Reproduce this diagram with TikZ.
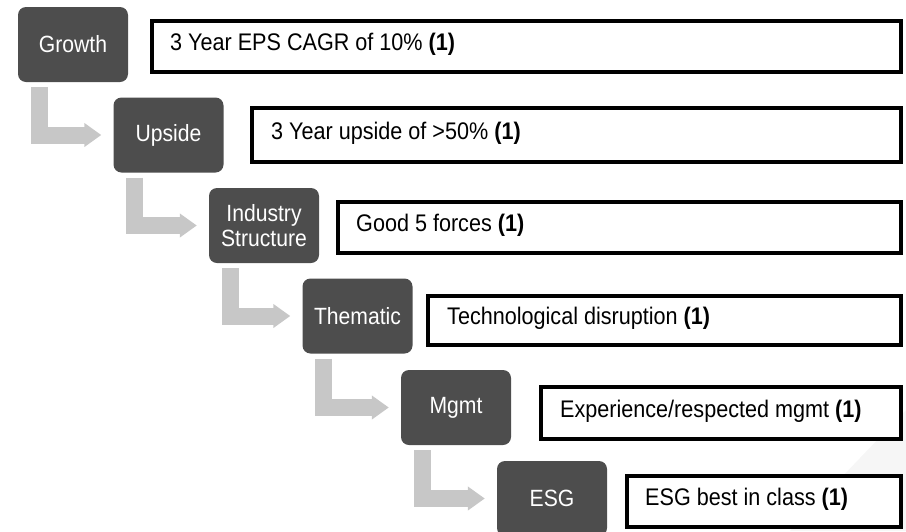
\documentclass[tikz,border=0pt]{standalone}
\usepackage{fontspec}
\setmainfont{Liberation Sans}[FakeStretch=0.9]
\usetikzlibrary{arrows.meta}
\definecolor{darkfill}{RGB}{77,77,77}
\definecolor{arrowgray}{RGB}{199,199,199}
\definecolor{wmark}{RGB}{246,246,246}
\begin{document}
\begin{tikzpicture}[x=1pt,y=-1pt,
  darkbox/.style={fill=darkfill, rounded corners=8pt, minimum width=110pt, minimum height=75pt,
    text=white, font=\fontsize{23.5}{25}\selectfont, align=center, inner sep=0pt},
  wbox/.style={draw=black, line width=4pt, fill=white, anchor=north west, inner sep=0pt},
  wtext/.style={anchor=west, font=\fontsize{24}{26}\selectfont, inner sep=0pt},
  flow/.style={draw=arrowgray, line width=17pt, -{Triangle[length=17pt,width=23pt]}}]
\useasboundingbox (0,0) rectangle (906,531);
\clip (0,0) rectangle (906,531);
\fill[wmark] (790,531) -- (906,410) -- (906,531) -- cycle;

% dark step boxes
\node[darkbox] (g) at (73,44.5) {Growth};
\node[darkbox] (u) at (168.5,135) {Upside};
\node[darkbox] (i) at (264,225.5) {Industry\\Structure};
\node[darkbox] (t) at (357.5,316) {Thematic};
\node[darkbox] (m) at (456,407.5) {Mgmt};
\node[darkbox] (e) at (552,498.5) {ESG};

% L-shaped connectors
\draw[flow] ([xshift=21.5pt,yshift=-5pt]g.south west) |- ([xshift=-12pt]u.west);
\draw[flow] ([xshift=21.5pt,yshift=-5pt]u.south west) |- ([xshift=-12pt]i.west);
\draw[flow] ([xshift=21.5pt,yshift=-5pt]i.south west) |- ([xshift=-12pt]t.west);
\draw[flow] ([xshift=21.5pt,yshift=-5pt]t.south west) |- ([xshift=-12pt]m.west);
\draw[flow] ([xshift=21.5pt,yshift=-5pt]m.south west) |- ([xshift=-12pt]e.west);

% white criteria boxes
\node[wbox, minimum width=749pt, minimum height=51pt] (b1) at (150,19) {};
\node[wbox, minimum width=649pt, minimum height=54pt] (b2) at (250,106) {};
\node[wbox, minimum width=563pt, minimum height=51pt] (b3) at (336,200) {};
\node[wbox, minimum width=473pt, minimum height=49pt] (b4) at (426,294) {};
\node[wbox, minimum width=360pt, minimum height=52pt] (b5) at (539,385) {};
\node[wbox, minimum width=274pt, minimum height=51pt] (b6) at (625,474) {};

\node[wtext] (t1) at (170,44.5) {3 Year EPS CAGR of 10\% \textbf{(1)}};
\node[wtext] (t2) at (271,133) {3 Year upside of >50\% \textbf{(1)}};
\node[wtext] (t3) at (356,225.5) {Good 5 forces \textbf{(1)}};
\node[wtext] (t4) at (447,318.5) {Technological disruption \textbf{(1)}};
\node[wtext] (t5) at (560,411) {Experience/respected mgmt \textbf{(1)}};
\node[wtext] (t6) at (645,499.5) {ESG best in class \textbf{(1)}};
\end{tikzpicture}
\end{document}
